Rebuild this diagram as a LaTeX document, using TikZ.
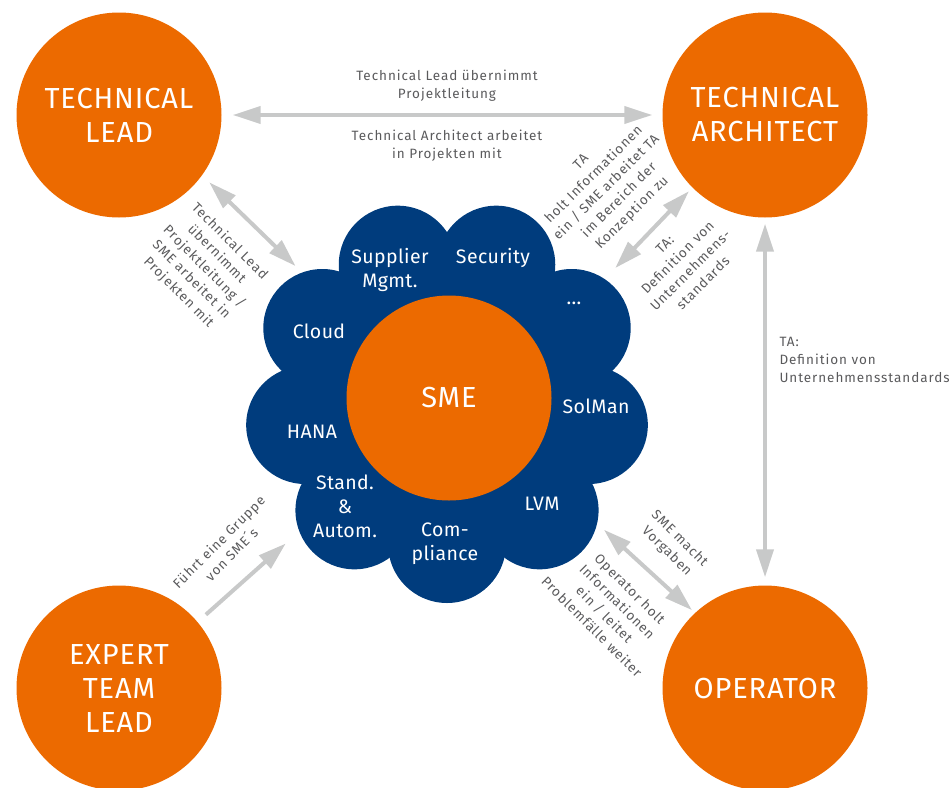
\documentclass[tikz,border=0pt]{standalone}
\usepackage{fontspec}
\setmainfont{Fira Sans}
\newfontfamily\notefont[LetterSpace=7]{Fira Sans}
\newfontfamily\rolefont[LetterSpace=3]{Fira Sans}
\newfontfamily\topicfont[LetterSpace=2]{Fira Sans}
\usetikzlibrary{arrows.meta,calc}
\definecolor{orangeC}{HTML}{EC6A00}
\definecolor{blueC}{HTML}{003C7D}
\definecolor{arrowC}{HTML}{C8C9C9}
\definecolor{noteC}{HTML}{5A5A5C}
\tikzset{
  role/.style={circle, fill=orangeC, minimum size=205pt, inner sep=0pt,
    text=white, align=center, font=\rolefont\fontsize{29}{34}\selectfont},
  petal/.style={circle, fill=blueC, minimum size=118pt, inner sep=0pt},
  topic/.style={text=white, align=center, font=\topicfont\fontsize{19.5}{24}\selectfont},
  note/.style={text=noteC, align=center, font=\notefont\fontsize{13.5}{18}\selectfont},
  tip/.tip={Triangle[length=28pt,width=17pt]},
  link/.style={draw=arrowC, line width=4pt, tip-tip},
  oneway/.style={draw=arrowC, line width=4pt, -tip}
}

\begin{document}
\begin{tikzpicture}[x=1pt,y=-1pt]
  \useasboundingbox (0,0) rectangle (949,787);

  \node[role] (tl) at (119,115) {TECHNICAL\\LEAD};
  \node[role] (ta) at (765,115) {TECHNICAL\\ARCHITECT};
  \node[role] (etl) at (119,688) {EXPERT\\TEAM\\LEAD};
  \node[role] (op) at (765,688) {OPERATOR};

  % cloud of topics around the SME
  \coordinate (c) at (447,400);
  \fill[blueC] (c) circle[radius=150pt];
  \foreach \a/\n in {-90/comp,-50/lvm,-10/solman,30/dots,70/sec,110/supp,150/cloud,190/hana,230/stand}
    \node[petal] (p\n) at ($(c)+(\a:144pt)$) {};
  \node[role] (sme) at (449,398) {SME};

  \node[topic] (tsupp) at (390,270) {Supplier\\Mgmt.};
  \node[topic] (tsec) at (493,258) {Security};
  \node[topic] (tdots) at (574,303) {...};
  \node[topic] (tsolman) at (596,406) {SolMan};
  \node[topic] (tlvm) at (542,504) {LVM};
  \node[topic] (tcomp) at (445,544) {Com-\\pliance};
  \node[topic] (tstand) at (345,506) {Stand.\\\&\\Autom.};
  \node[topic] (thana) at (312,432) {HANA};
  \node[topic] (tcloud) at (319,331) {Cloud};

  \draw[link, shorten <=11pt, shorten >=10pt] (tl) -- (ta);
  \draw[link, shorten <=10pt, shorten >=9pt] (tl.-36) -- (pcloud.110);
  \draw[link, shorten <=5pt, shorten >=15pt] (ta.-135) -- (pdots.56);
  \draw[link, shorten <=6pt, shorten >=8pt] (ta) -- (op);
  \draw[link, shorten <=9pt, shorten >=4pt] (plvm.-13) -- (op.133);
  \draw[oneway, shorten <=11pt, shorten >=18pt] (etl.40) -- (pstand.201);

  \node[note] (ntop) at (447,86) {Technical Lead übernimmt\\Projektleitung};
  \node[note] (nbot) at (447,146) {Technical Architect arbeitet\\in Projekten mit};
  \node[note, rotate=-45] (ntl) at (204,267) {Technical Lead\\übernimmt\\Projektleitung /\\SME arbeitet in\\Projekten mit};
  \node[note, rotate=45] (ntaup) at (607,188) {TA\\holt Informationen\\ein / SME arbeitet TA\\im Bereich der\\Konzeption zu};
  \node[note, rotate=45] (ntalow) at (684,264) {TA:\\Definition von\\Unternehmens-\\standards};
  \node[note, align=left, anchor=west] (nright) at (776,360) {TA:\\Definition von\\Unternehmensstandards};
  \node[note, rotate=45] (netl) at (225,548) {Führt eine Gruppe\\von SME´s};
  \node[note, rotate=-45] (nopup) at (673,545) {SME macht\\Vorgaben};
  \node[note, rotate=-45] (noplow) at (611,608) {Operator holt\\Informationen\\ein / leitet\\Problemfälle weiter};
\end{tikzpicture}
\end{document}
